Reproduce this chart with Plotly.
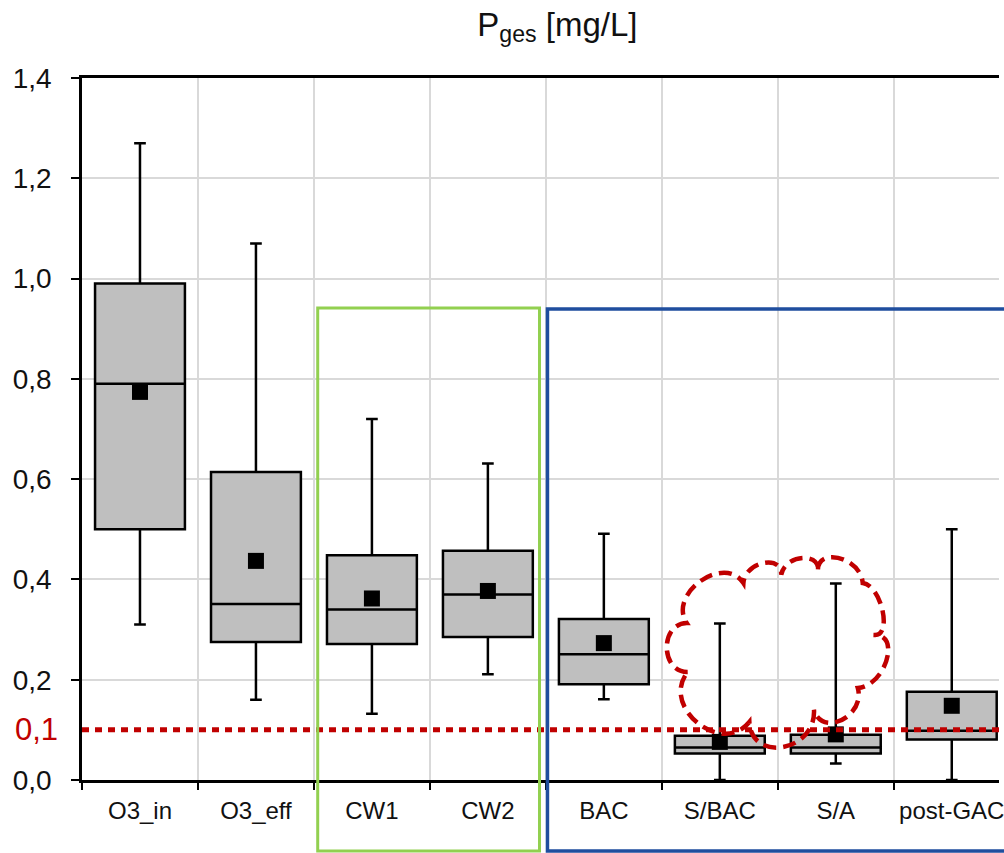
import plotly.graph_objects as go

categories = ["O3_in", "O3_eff", "CW1", "CW2", "BAC", "S/BAC", "S/A", "post-GAC"]
lower_whisker = [0.31, 0.16, 0.132, 0.211, 0.161, 0.0, 0.033, 0.0]
q1_vals = [0.50, 0.275, 0.271, 0.285, 0.191, 0.053, 0.053, 0.081]
median_vals = [0.79, 0.351, 0.340, 0.370, 0.251, 0.065, 0.065, 0.098]
q3_vals = [0.99, 0.614, 0.448, 0.457, 0.321, 0.088, 0.090, 0.176]
upper_whisker = [1.27, 1.07, 0.72, 0.631, 0.491, 0.312, 0.392, 0.50]
mean_vals = [0.774, 0.437, 0.362, 0.377, 0.273, 0.076, 0.091, 0.148]
limit_value = 0.1
y_ticks = [0.0, 0.2, 0.4, 0.6, 0.8, 1.0, 1.2, 1.4]
y_tick_text = ["0,0", "0,2", "0,4", "0,6", "0,8", "1,0", "1,2", "1,4"]

W, H = 1004, 853
ML, MT, MR, MB = 82, 78, 0, 853 - 780
PW, PH = W - ML - MR, H - MT - MB
CAT_W = 116.6  # pixels per category

def px2paper(px, py):
    return (px - ML) / PW, (H - MB - py) / PH

fig = go.Figure()
fig.add_trace(go.Box(
    x=categories, q1=q1_vals, median=median_vals, q3=q3_vals,
    lowerfence=lower_whisker, upperfence=upper_whisker,
    boxpoints=False, fillcolor="#BFBFBF",
    line=dict(color="black", width=2.5), width=0.775, whiskerwidth=0.13,
    showlegend=False, hoverinfo="skip"))
fig.add_trace(go.Scatter(
    x=categories, y=mean_vals, mode="markers",
    marker=dict(symbol="square", size=16, color="black"),
    showlegend=False, hoverinfo="skip"))

shapes = []
shapes.append(dict(type="line", xref="paper", yref="y", x0=0, x1=1, y0=limit_value, y1=limit_value,
                   line=dict(color="#C00000", width=5, dash="7px,6px"), layer="above"))
gx0, gy1 = px2paper(319, 308)
gx1, gy0 = px2paper(542, 851)
shapes.append(dict(type="rect", xref="paper", yref="paper", x0=gx0, x1=gx1, y0=gy0, y1=gy1,
                   line=dict(color="#92D050", width=3), layer="above"))
bx0, by1 = px2paper(550, 309)
_, by0 = px2paper(0, 851)
shapes.append(dict(type="rect", xref="paper", yref="paper", x0=bx0, x1=1.05, y0=by0, y1=by1,
                   line=dict(color="#1F4E9E", width=3.5), layer="above"))

cusps = [(691, 672), (690, 623), (747, 583), (785, 575), (822, 572), (867, 583),
         (878, 635), (862, 688), (818, 710), (753, 722)]
apexes = [(670, 648), (704, 581), (767, 563), (806, 558), (843, 558), (887, 611),
          (891, 660), (846, 720), (787, 747), (701, 723)]
path = []
for i in range(len(cusps)):
    p0 = cusps[i]
    p1 = cusps[(i + 1) % len(cusps)]
    ap = apexes[i]
    mx, my = (p0[0] + p1[0]) / 2, (p0[1] + p1[1]) / 2
    dx, dy = (ap[0] - mx) * 4 / 3, (ap[1] - my) * 4 / 3
    c1 = px2paper(p0[0] + dx, p0[1] + dy)
    c2 = px2paper(p1[0] + dx, p1[1] + dy)
    e = px2paper(*p1)
    if i == 0:
        s = px2paper(*p0)
        path.append(f"M{s[0]:.5f},{s[1]:.5f}")
    path.append(f"C{c1[0]:.5f},{c1[1]:.5f} {c2[0]:.5f},{c2[1]:.5f} {e[0]:.5f},{e[1]:.5f}")
path.append("Z")
shapes.append(dict(type="path", xref="paper", yref="paper", path=" ".join(path),
                   line=dict(color="#C00000", width=4.5, dash="13px,7px"), layer="above"))

tx, _ = px2paper(560, 0)
lx, _ = px2paper(60, 0)
fig.update_layout(
    width=W, height=H,
    margin=dict(l=ML, r=MR, t=MT, b=MB),
    paper_bgcolor="white", plot_bgcolor="white",
    font=dict(family="Liberation Sans, Arial, sans-serif", color="#111111"),
    title=dict(text="P<sub>ges</sub> [mg/L]", x=tx, xref="paper", xanchor="center",
               y=1 - 24 / H, yref="container", yanchor="middle",
               font=dict(size=33, color="#111111")),
    shapes=shapes,
    annotations=[dict(text="0,1", xref="paper", yref="y", x=lx, y=limit_value,
                      xanchor="right", yanchor="middle", showarrow=False,
                      font=dict(size=31, color="#C00000"))],
)
n_visible = PW / CAT_W
fig.update_xaxes(
    type="category", range=[-0.5, -0.5 + n_visible],
    tickson="boundaries", ticks="outside", ticklen=7, tickwidth=2, tickcolor="black",
    showgrid=True, gridcolor="#D9D9D9", gridwidth=1.5,
    showline=True, linecolor="black", linewidth=2.5, mirror=True,
    tickfont=dict(size=24, color="#111111"), ticklabelstandoff=7, zeroline=False)
fig.update_yaxes(
    range=[0, 1.4], tickvals=y_ticks, ticktext=y_tick_text,
    ticks="outside", ticklen=8, tickwidth=2, tickcolor="black",
    showgrid=True, gridcolor="#D9D9D9", gridwidth=1.5,
    showline=True, linecolor="black", linewidth=2.5, zeroline=False,
    tickfont=dict(size=28, color="#111111"), ticklabelstandoff=14)

fig.write_html(
    "out.html",
    config={"displayModeBar": False},
    post_script="document.body.style.margin='0';document.body.style.overflow='hidden';")
